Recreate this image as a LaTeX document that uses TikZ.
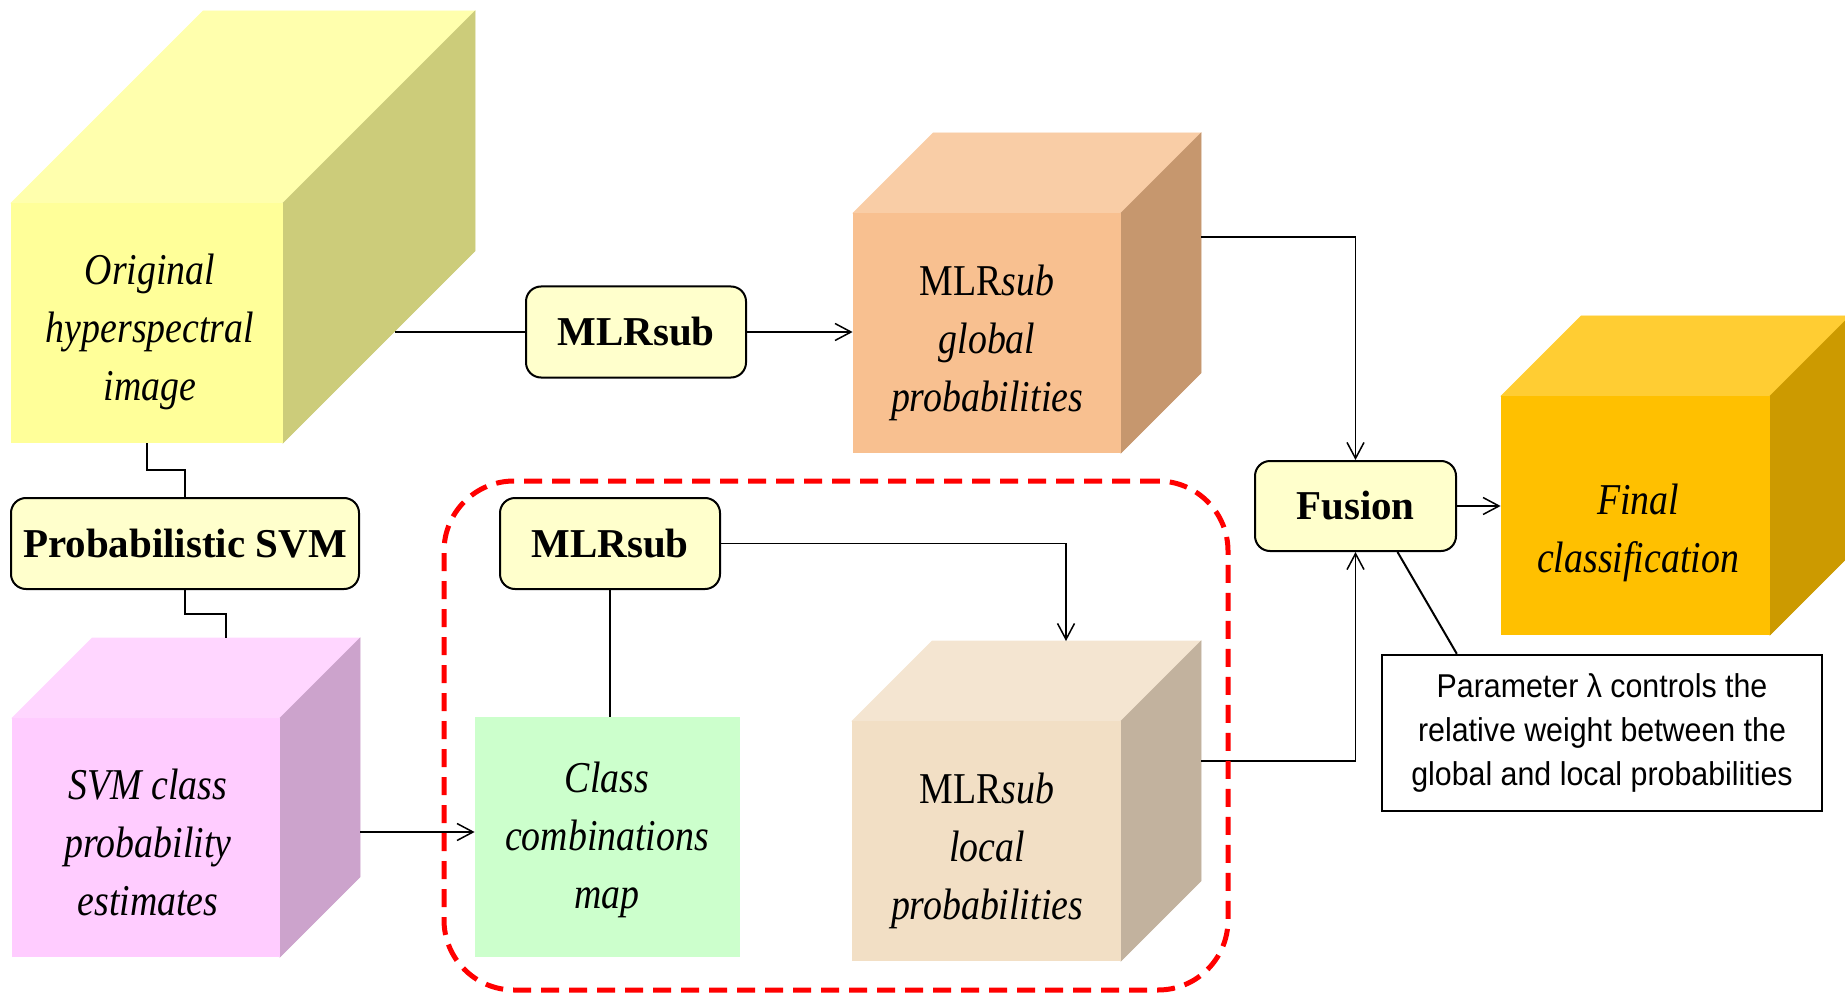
\documentclass[tikz,border=0pt]{standalone}
\usepackage{fontspec}
\setmainfont{Liberation Serif}
\newfontfamily\cubefont[FakeStretch=0.86]{Liberation Serif}
\newfontfamily\notefont[FakeStretch=0.92]{Liberation Sans}
\usetikzlibrary{arrows.meta,calc,fit}

% block colours: F = front, T = top, S = side
\definecolor{origF}{HTML}{FFFF99}
\definecolor{origT}{HTML}{FFFFAD}
\definecolor{origS}{HTML}{CCCC7A}
\definecolor{svmpF}{HTML}{FFCCFF}
\definecolor{svmpT}{HTML}{FFD6FF}
\definecolor{svmpS}{HTML}{CCA3CC}
\definecolor{globF}{HTML}{F8C090}
\definecolor{globT}{HTML}{F9CDA6}
\definecolor{globS}{HTML}{C6976E}
\definecolor{locF}{HTML}{F2DFC5}
\definecolor{locT}{HTML}{F4E5D1}
\definecolor{locS}{HTML}{C2B29E}
\definecolor{finalF}{HTML}{FFC000}
\definecolor{finalT}{HTML}{FFCD33}
\definecolor{finalS}{HTML}{CC9A00}
\definecolor{combF}{HTML}{CCFFCC}
\definecolor{boxfill}{HTML}{FFFFCC}
\definecolor{frame}{HTML}{FF0000}

% a solid block: front face node plus top and side faces
% #1 name, #2 x1, #3 y1, #4 x2, #5 y2, #6 depth
\newcommand\solidblock[6]{%
  \fill[#1T, draw=#1T, line width=0.3pt] (#2,#3) -- (#2+#6,#3-#6) -- (#4+#6,#3-#6) -- (#4,#3) -- cycle;
  \fill[#1S, draw=#1S, line width=0.3pt] (#4,#3) -- (#4+#6,#3-#6) -- (#4+#6,#5-#6) -- (#4,#5) -- cycle;
  \node[fit={(#2,#3) (#4,#5)}, inner sep=0pt, fill=#1F] (#1) {};
}

\tikzset{
  cubetext/.style={font=\cubefont\itshape\fontsize{22}{29}\selectfont, align=center, inner sep=0pt},
  procbox/.style={draw, fill=boxfill, line width=1pt, rounded corners=7.5pt,
    font=\bfseries\fontsize{20.5}{24}\selectfont, inner sep=0pt},
  conn/.style={line width=0.75pt},
  arr/.style={conn, -{Straight Barb[length=8pt,width=8.5pt]}},
}

\begin{document}
\begin{tikzpicture}[x=0.5pt,y=-0.5pt]
\useasboundingbox (0,0) rectangle (1845,994);
\clip (0,0) rectangle (1845,994);

% data blocks
\solidblock{orig}{11}{203}{283}{443}{192}
\solidblock{svmp}{12}{718}{280}{957}{80}
\solidblock{glob}{853}{213}{1121}{453}{80}
\solidblock{loc}{852}{721}{1121}{961}{80}
\solidblock{final}{1501}{396}{1770}{635}{80}
\node[fit={(475,717) (740,957)}, inner sep=0pt, fill=combF] (comb) {};

\node[cubetext] (orig-t) at (150,332) {Original\\hyperspectral\\image};
\node[cubetext] (svmp-t) at (148,842) {SVM class\\probability\\estimates};
\node[cubetext] (glob-t) at (987,343) {{\upshape MLR}sub\\global\\probabilities};
\node[cubetext] (loc-t) at (987,851) {{\upshape MLR}sub\\local\\probabilities};
\node[cubetext] (final-t) at (1638,533) {Final\\classification};
\node[cubetext] (comb-t) at (607,840) {Class\\combinations\\map};

% processing steps
\node[procbox, minimum width=110pt, minimum height=45.5pt] (mlr1) at (636,332) {MLRsub};
\node[procbox, minimum width=174pt, minimum height=45.5pt] (psvm) at (185,543.5) {Probabilistic SVM};
\node[procbox, minimum width=110pt, minimum height=45.5pt] (mlr2) at (610,543.5) {MLRsub};
\node[procbox, minimum width=100.5pt, minimum height=45pt] (fusion) at (1355.5,506) {Fusion};

% remark on the fusion weight
\node[draw, fill=white, line width=1.2pt, minimum width=220pt, minimum height=78pt, inner sep=0pt,
  align=center, font=\notefont\fontsize{16.5}{22}\selectfont] (note) at (1602,733)
  {Parameter λ controls the\\relative weight between the\\global and local probabilities};

% connectors
\coordinate (origR) at (395,332);
\draw[conn] (origR) -- (mlr1.west);
\draw[arr] (mlr1.east) -- (mlr1.east -| glob.west);
\draw[conn] (orig.south) |- ($(orig.south)!0.5!(psvm.north)$) -| (psvm.north);
\coordinate (svmtop) at (226,638);
\draw[conn] (psvm.south) |- ($(psvm.south)!0.5!(svmtop)$) -| (svmtop);
\coordinate (svmR) at (360,832);
\draw[arr] (svmR) -- (svmR -| comb.west);
\draw[conn] (mlr2.south) -- (mlr2.south |- comb.north);
\coordinate (loctop) at (1066,641);
\draw[arr] (mlr2.east) -| (loctop);
\coordinate (globR) at (1201,237);
\draw[arr] (globR) -| (fusion.north);
\coordinate (locR) at (1201,761);
\draw[arr] (locR) -| (fusion.south);
\draw[arr] (fusion.east) -- (fusion.east -| final.west);
\draw[line width=1pt] ($(fusion.south)+(42,0)$) -- ($(note.north west)+(76,0)$);

% local-processing group
\node[draw=frame, line width=2.5pt, dash pattern=on 9pt off 5pt, rounded corners=35pt,
  minimum width=392pt, minimum height=254.5pt, inner sep=0pt] (localgroup) at (836,735.5) {};
\end{tikzpicture}
\end{document}
